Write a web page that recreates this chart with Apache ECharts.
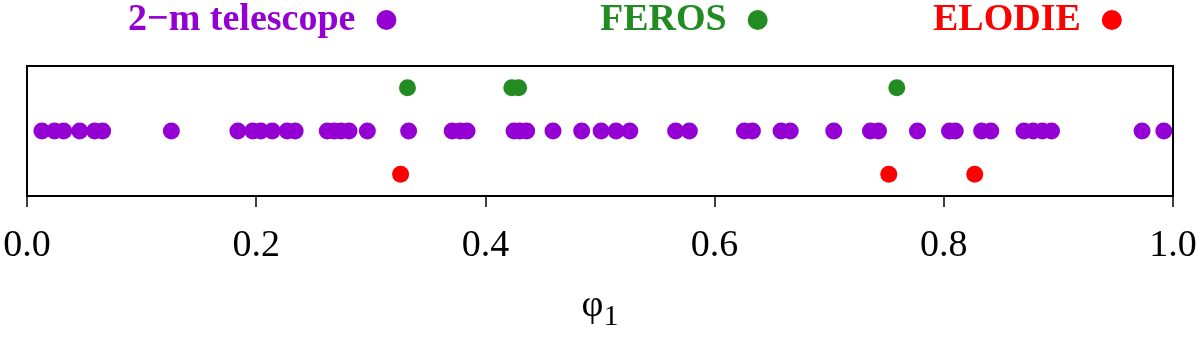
<!DOCTYPE html>
<html>
<head>
<meta charset="utf-8">
<script src="https://cdn.jsdelivr.net/npm/echarts@6/dist/echarts.min.js"></script>
<style>html,body{margin:0;padding:0;background:#fff}#chart{width:1200px;height:337px}</style>
</head>
<body>
<div id="chart"></div>
<script>
// Instruments (rows of the strip, bottom to top)
const rows = ['ELODIE', '2−m telescope', 'FEROS'];
// Phase values (φ1) of the observations per instrument
const telescopePhases = [0.013, 0.024, 0.032, 0.046, 0.059, 0.066, 0.126, 0.184, 0.197, 0.204, 0.214, 0.227, 0.234,
  0.262, 0.268, 0.274, 0.281, 0.297, 0.333, 0.371, 0.378, 0.384, 0.425, 0.430, 0.436, 0.459, 0.484, 0.501, 0.514,
  0.526, 0.566, 0.578, 0.626, 0.633, 0.658, 0.666, 0.704, 0.736, 0.743, 0.777, 0.805, 0.810, 0.833, 0.841, 0.870,
  0.878, 0.886, 0.894, 0.973, 0.992];
const ferosPhases = [0.332, 0.423, 0.429, 0.759];
const elodiePhases = [0.326, 0.752, 0.827];
// Axis ticks
const xTicks = [0.0, 0.2, 0.4, 0.6, 0.8, 1.0];
const xName = 'φ1';

const colors = { '2−m telescope': '#9400D3', 'FEROS': '#228B22', 'ELODIE': '#FF0000' };
const FONT = 'Liberation Serif';

function legendFor(name, left) {
  return {
    data: [name], left: left, top: 1, padding: 0,
    icon: 'circle', itemWidth: 20, itemHeight: 20, align: 'right',
    selectedMode: false,
    formatter: '{t|{name}}',
    textStyle: {
      color: colors[name], fontFamily: FONT, fontWeight: 'bold', fontSize: 38,
      rich: { t: { color: colors[name], fontFamily: FONT, fontWeight: 'bold', fontSize: 38, padding: [0, 16, 0, 0] } }
    }
  };
}

function seriesFor(name, phases) {
  return {
    name: name, type: 'scatter', symbol: 'circle', symbolSize: 17,
    itemStyle: { color: colors[name], opacity: 1 },
    data: phases.map(p => [p, name]),
    silent: true
  };
}

const chart = echarts.init(document.getElementById('chart'), null, { renderer: 'canvas' });
chart.setOption({
  animation: false,
  backgroundColor: '#fff',
  textStyle: { fontFamily: FONT },
  legend: [legendFor('2−m telescope', 128), legendFor('FEROS', 600), legendFor('ELODIE', 933)],
  grid: { left: 27, right: 27, top: 66, bottom: 141, show: true, borderColor: '#000', borderWidth: 2, outerBoundsMode: 'none' },
  xAxis: {
    type: 'value', min: xTicks[0], max: xTicks[xTicks.length - 1], interval: 0.2,
    axisLine: { show: true, lineStyle: { color: '#000', width: 2 } },
    axisTick: { show: true, length: 11, lineStyle: { color: '#000', width: 1.5 } },
    splitLine: { show: false },
    axisLabel: { color: '#000', fontFamily: FONT, fontSize: 38, margin: 31,
      formatter: v => v.toFixed(1) },
    name: '{a|' + xName.slice(0, 1) + '}{b|' + xName.slice(1) + '}',
    nameLocation: 'middle', nameGap: 84,
    nameTextStyle: {
      color: '#000', fontFamily: FONT,
      rich: {
        a: { fontFamily: FONT, fontSize: 38, color: '#000' },
        b: { fontFamily: FONT, fontSize: 30, color: '#000', padding: [22, 0, 0, 0] }
      }
    }
  },
  yAxis: {
    type: 'category', data: rows, show: false, boundaryGap: true
  },
  series: [
    seriesFor('2−m telescope', telescopePhases),
    seriesFor('FEROS', ferosPhases),
    seriesFor('ELODIE', elodiePhases)
  ]
});
</script>
</body>
</html>
